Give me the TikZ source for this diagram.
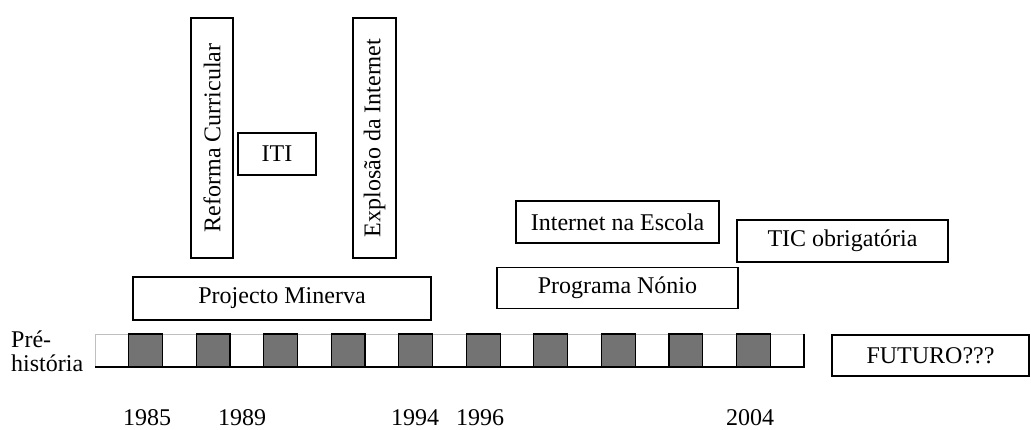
\documentclass[tikz,border=0pt]{standalone}
\usepackage{fontspec}
\setmainfont{Liberation Serif}
\usetikzlibrary{positioning}

\begin{document}
\begin{tikzpicture}[x=1pt,y=-1pt,
	box/.style={draw,line width=1.4pt,inner sep=0pt,font=\fontsize{24}{24}\selectfont},
	lbl/.style={inner sep=0pt,font=\fontsize{24}{24}\selectfont},
	light/.style={draw=black!25,fill=white,line width=0.8pt},
	dark/.style={draw=black,fill=black!55,line width=1.2pt}]
	\useasboundingbox (0,0) rectangle (1031,430);
	% the time bar
	\foreach \i in {0,2,...,20}
		\draw[light] (95+\i*33.76,334) rectangle ++(33.76,33);
	\foreach \i in {1,3,...,19}
		\draw[dark] (95+\i*33.76,334) rectangle ++(33.76,33);
	\draw[line width=1.6pt] (95,367) -- (804,367) -- (804,334);
	\node[lbl,align=left,anchor=west] (pre) at (11,351) {Pré-\\história};
	\foreach \yr/\xx in {1985/147,1989/242,1994/415,1996/480,2004/750}
		\node[lbl,anchor=base] (y\yr) at (\xx,425) {\yr};
	% events
	\node[box,rotate=90,minimum width=240pt,minimum height=42pt] (reforma) at (212,138) {Reforma Curricular};
	\node[box,minimum width=78pt,minimum height=42pt] (iti) at (277,154) {ITI};
	\node[box,rotate=90,minimum width=240pt,minimum height=43pt] (explosao) at (374.5,138) {Explosão da Internet};
	\node[box,minimum width=298pt,minimum height=43pt] (minerva) at (282,298.5) {Projecto Minerva};
	\node[box,minimum width=203pt,minimum height=42pt] (escola) at (617.5,222) {Internet na Escola};
	\node[box,minimum width=241pt,minimum height=41pt] (nonio) at (617.5,288) {Programa Nónio};
	\node[box,minimum width=211pt,minimum height=42pt] (tic) at (842.5,241) {TIC obrigatória};
	\node[box,minimum width=197pt,minimum height=41pt] (futuro) at (930.5,355.5) {FUTURO???};
\end{tikzpicture}
\end{document}
